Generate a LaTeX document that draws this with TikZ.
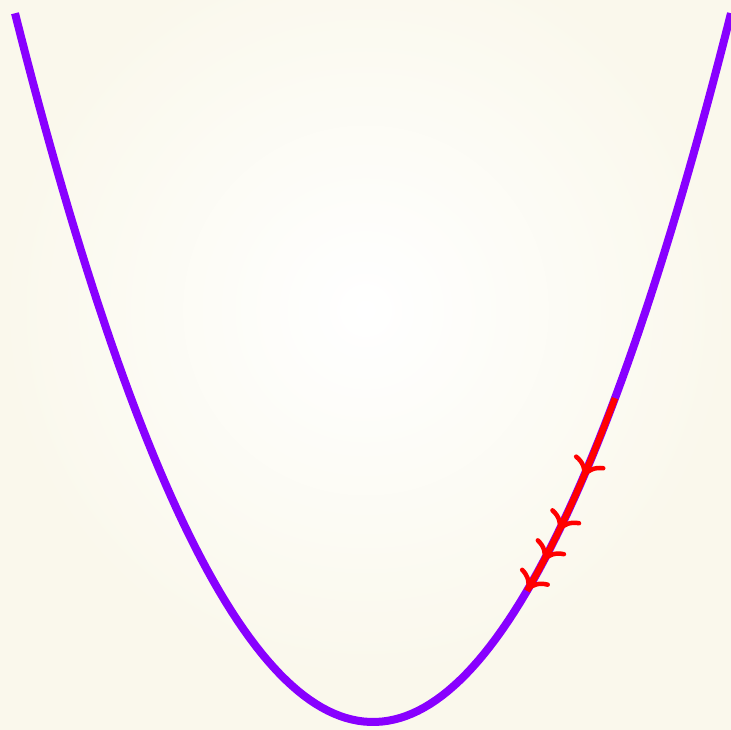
\documentclass[tikz,border=0pt]{standalone}
\usepackage{tikz}
\usetikzlibrary{arrows.meta,decorations.markings}
\definecolor{curvepurple}{RGB}{136,0,255}
\definecolor{descred}{RGB}{255,0,0}
\definecolor{bgcream}{RGB}{250,248,236}

\begin{document}
\begin{tikzpicture}[
  x=1pt, y=-1pt,
  curve/.style={curvepurple, line width=8pt},
  descent/.style={descred, line width=6.5pt, postaction={decorate},
    decoration={markings,
      mark=at position 0.40 with {\arrow{To[length=18pt,width=34pt,line width=4.5pt]}},
      mark=at position 0.68 with {\arrow{To[length=18pt,width=34pt,line width=4.5pt]}},
      mark=at position 0.84 with {\arrow{To[length=18pt,width=34pt,line width=4.5pt]}},
      mark=at position 1 with {\arrow{To[length=18pt,width=34pt,line width=4.5pt]}}}}
]
\useasboundingbox (0,0) rectangle (731,730);
\shade[inner color=white, outer color=bgcream] (0,-60) rectangle (731,680);
\fill[bgcream] (0,680) rectangle (731,730);

% the loss curve
\draw[curve] plot[domain=15:731, samples=120]
  (\x, {722-55.3*((\x-373)/100)^2});

% steps going down
\draw[descent] plot[domain=615:527, samples=40]
  (\x, {722-55.3*((\x-373)/100)^2});
\end{tikzpicture}
\end{document}
